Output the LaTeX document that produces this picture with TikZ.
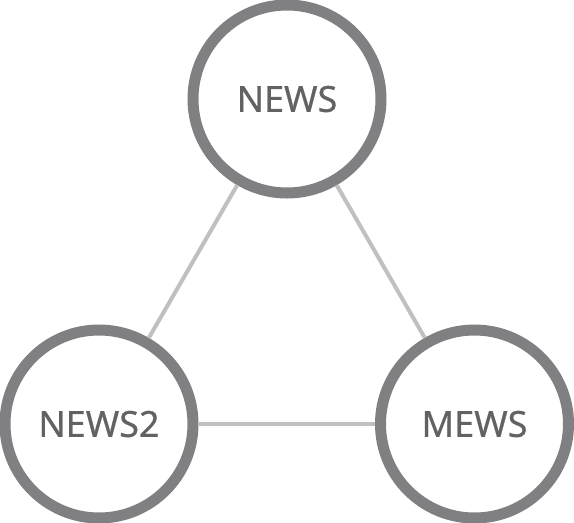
\documentclass[tikz,border=0pt]{standalone}
\usepackage{fontspec}
\setmainfont{Noto Sans}
\newfontfamily\labelfont[FakeBold=0.6]{Noto Sans}
\definecolor{ringgray}{RGB}{128,128,131}
\definecolor{textgray}{RGB}{98,98,100}
\definecolor{linkgray}{RGB}{192,192,192}
\begin{document}
\begin{tikzpicture}[x=1pt,y=-1pt,
  ring/.style={circle,draw=ringgray,line width=11pt,fill=white,inner sep=0pt,minimum size=188pt,
    text=textgray,font=\labelfont\fontsize{36}{40}\selectfont},
  link/.style={draw=linkgray,line width=4pt}]
\useasboundingbox (0,0) rectangle (574,523);
\node[ring] (news) at (287,99) {NEWS};
\node[ring] (news2) at (99,424) {NEWS2};
\node[ring] (mews) at (474.5,424) {MEWS};
\draw[link] (news) -- (news2);
\draw[link] (news) -- (mews);
\draw[link] (news2) -- (mews);
\end{tikzpicture}
\end{document}
